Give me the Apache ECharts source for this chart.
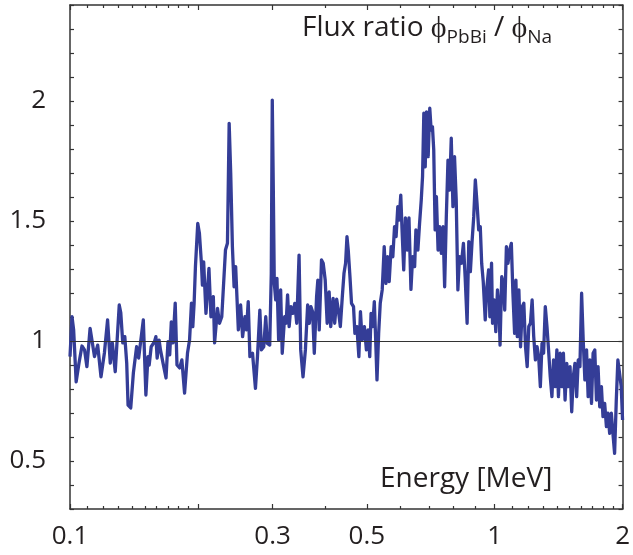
<!DOCTYPE html>
<html>
<head>
<meta charset="utf-8">
<script src="https://cdn.jsdelivr.net/npm/echarts@6/dist/echarts.min.js"></script>
<style>
  html, body { margin: 0; padding: 0; background: #fff; }
  #chart { width: 633px; height: 555px; }
</style>
</head>
<body>
<div id="chart"></div>
<script>
// Neutron energy grid (MeV) and flux ratio PbBi / Na
const energyMeV = [
  0.100, 0.1011, 0.1020, 0.1034, 0.1050, 0.1067, 0.1082, 0.1096, 0.1115, 0.1125,
  0.1142, 0.1162, 0.1183, 0.1205, 0.1226, 0.1244, 0.1258, 0.1278, 0.1289, 0.1306,
  0.1317, 0.1331, 0.1346, 0.1360, 0.1370, 0.1390, 0.1410, 0.1435, 0.1451, 0.1466,
  0.1488, 0.1498, 0.1509, 0.1526, 0.1536, 0.1553, 0.1581, 0.1593, 0.1604, 0.1621,
  0.1633, 0.1656, 0.1683, 0.1701, 0.1717, 0.1732, 0.1748, 0.1769, 0.1786, 0.1812,
  0.1834, 0.1861, 0.1891, 0.1912, 0.1932, 0.1946, 0.1960, 0.1974, 0.1999, 0.2017,
  0.2039, 0.2050, 0.2064, 0.2090, 0.2124, 0.2147, 0.2175, 0.2190, 0.2225, 0.2249,
  0.2277, 0.2298, 0.2323, 0.2348, 0.2370, 0.2390, 0.2412, 0.2434, 0.2455, 0.2468,
  0.2491, 0.2522, 0.2549, 0.2582, 0.2604, 0.2628, 0.2652, 0.2690, 0.2733, 0.2763,
  0.2799, 0.2823, 0.2859, 0.2890, 0.2915, 0.2953, 0.2978, 0.2994, 0.3011, 0.3027,
  0.3050, 0.3071, 0.3099, 0.3133, 0.3160, 0.3201, 0.3228, 0.3253, 0.3281, 0.3311,
  0.3347, 0.3383, 0.3419, 0.3462, 0.3493, 0.3537, 0.3583, 0.3627, 0.3660, 0.3692,
  0.3726, 0.3760, 0.3807, 0.3833, 0.3862, 0.3910, 0.3946, 0.3989, 0.4032, 0.4075,
  0.4111, 0.4164, 0.4200, 0.4245, 0.4284, 0.4330, 0.4377, 0.4417, 0.4455, 0.4489,
  0.4520, 0.4562, 0.4601, 0.4651, 0.4686, 0.4737, 0.4788, 0.4829, 0.4873, 0.4934,
  0.4987, 0.5033, 0.5079, 0.5115, 0.5161, 0.5206, 0.5245, 0.5282, 0.5330, 0.5376,
  0.5434, 0.5493, 0.5544, 0.5594, 0.5643, 0.5704, 0.5756, 0.5809, 0.5859, 0.5913,
  0.5954, 0.6009, 0.6051, 0.6106, 0.6162, 0.6229, 0.6282, 0.6350, 0.6408, 0.6478,
  0.6523, 0.6593, 0.6654, 0.6715, 0.6762, 0.6809, 0.6861, 0.6909, 0.6972, 0.7032,
  0.7085, 0.7135, 0.7185, 0.7239, 0.7290, 0.7356, 0.7420, 0.7488, 0.7557, 0.7622,
  0.7692, 0.7762, 0.7829, 0.7901, 0.7973, 0.8042, 0.8116, 0.8190, 0.8261, 0.8350,
  0.8440, 0.8518, 0.8610, 0.8689, 0.8764, 0.8844, 0.8925, 0.9002, 0.9085, 0.9168,
  0.9247, 0.9317, 0.9397, 0.9499, 0.9586, 0.9674, 0.9741, 0.9830, 0.9883, 0.9968,
  1.0059, 1.0151, 1.0239, 1.0294, 1.0388, 1.0484, 1.0557, 1.0654, 1.0745, 1.0844,
  1.0943, 1.1037, 1.1139, 1.1217, 1.1302, 1.1399, 1.1504, 1.1610, 1.1710, 1.1817,
  1.1925, 1.2028, 1.2138, 1.2249, 1.2355, 1.2468, 1.2582, 1.2690, 1.2807, 1.2924,
  1.3035, 1.3155, 1.3275, 1.3390, 1.3513, 1.3636, 1.3754, 1.3880, 1.4007, 1.4128,
  1.4257, 1.4388, 1.4512, 1.4645, 1.4779, 1.4907, 1.5043, 1.5181, 1.5312, 1.5452,
  1.5594, 1.5728, 1.5872, 1.6018, 1.6156, 1.6304, 1.6453, 1.6595, 1.6747, 1.6901,
  1.7047, 1.7203, 1.7360, 1.7510, 1.7671, 1.7833, 1.7986, 1.8151, 1.8323, 1.8479,
  1.8648, 1.8819, 1.8981, 1.9155, 1.9331, 1.9497, 1.9676, 1.9856, 2.000
];
const fluxRatio = [
  0.935, 1.101, 1.046, 0.830, 0.908, 0.979, 0.963, 0.893, 1.053, 1.046,
  0.935, 0.983, 0.851, 0.950, 1.088, 0.908, 0.992, 0.872, 0.872, 1.150,
  1.117, 0.992, 1.018, 0.908, 0.733, 0.721, 0.867, 0.976, 0.929, 0.929,
  1.088, 1.095, 0.775, 0.935, 0.900, 0.976, 0.997, 1.018, 0.929, 1.004,
  0.963, 0.908, 0.846, 0.997, 0.942, 1.080, 0.992, 1.158, 0.900, 0.888,
  0.921, 0.783, 0.950, 1.004, 1.158, 1.060, 1.158, 1.310, 1.490, 1.449,
  1.324, 1.233, 1.330, 1.115, 1.303, 1.101, 1.185, 0.992, 1.136, 1.074,
  1.101, 1.101, 1.379, 1.407, 1.907, 1.699, 1.393, 1.226, 1.310, 1.213,
  1.046, 1.150, 1.018, 1.101, 1.046, 1.164, 0.935, 0.949, 0.803, 0.935,
  1.129, 0.963, 0.976, 1.101, 0.990, 0.983, 1.282, 2.004, 1.629, 1.240,
  1.171, 1.261, 1.004, 1.213, 0.949, 1.101, 1.074, 1.192, 1.060, 1.143,
  1.115, 1.157, 1.074, 1.358, 0.963, 0.851, 0.963, 1.150, 1.074, 1.143,
  1.122, 0.949, 1.185, 1.254, 1.046, 1.338, 1.324, 1.254, 1.074, 1.205,
  1.060, 1.178, 1.074, 1.174, 1.129, 1.060, 1.185, 1.282, 1.324, 1.435,
  1.379, 1.268, 1.157, 1.143, 1.032, 1.060, 0.935, 1.122, 1.004, 1.060,
  0.963, 1.046, 0.935, 1.115, 1.060, 1.164, 1.004, 0.838, 1.032, 1.157,
  1.213, 1.393, 1.240, 1.351, 1.247, 1.393, 1.351, 1.476, 1.435, 1.560,
  1.504, 1.608, 1.463, 1.296, 1.513, 1.379, 1.513, 1.215, 1.351, 1.310,
  1.463, 1.379, 1.490, 1.588, 1.685, 1.949, 1.726, 1.955, 1.768, 1.970,
  1.879, 1.893, 1.796, 1.463, 1.601, 1.379, 1.476, 1.365, 1.476, 1.226,
  1.518, 1.754, 1.629, 1.845, 1.560, 1.768, 1.588, 1.213, 1.351, 1.324,
  1.407, 1.268, 1.074, 1.414, 1.289, 1.414, 1.518, 1.671, 1.574, 1.463,
  1.476, 1.324, 1.247, 1.088, 1.226, 1.296, 1.101, 1.324, 1.074, 1.171,
  1.039, 1.213, 1.129, 0.983, 1.268, 1.240, 1.129, 1.393, 1.324, 1.379,
  1.407, 1.199, 1.032, 1.254, 1.018, 1.213, 0.976, 1.143, 1.157, 0.976,
  0.893, 1.060, 1.074, 1.171, 1.018, 0.921, 0.976, 0.935, 0.810, 0.990,
  0.949, 1.143, 1.060, 0.963, 0.851, 0.768, 0.921, 0.810, 0.963, 0.768,
  0.949, 0.810, 0.949, 0.754, 0.907, 0.810, 0.893, 0.705, 0.851, 0.907,
  0.768, 0.921, 0.893, 1.199, 1.004, 0.838, 0.963, 0.768, 0.921, 0.740,
  0.949, 0.963, 0.754, 0.893, 0.726, 0.810, 0.685, 0.740, 0.643, 0.699,
  0.615, 0.699, 0.615, 0.532, 0.754, 0.921, 0.865, 0.810, 0.671
];

// Axis ticks and labels
const xLabelValues = [0.1, 0.3, 0.5, 1, 2];
const xMajorTicks = [0.1, 0.2, 0.3, 0.5, 1, 2];
const xMinorTicks = [0.11, 0.12, 0.13, 0.14, 0.15, 0.16, 0.17, 0.18, 0.19,
  0.4, 0.6, 0.7, 0.8, 0.9, 1.1, 1.2, 1.3, 1.4, 1.5, 1.6, 1.7, 1.8, 1.9];
const yLabelValues = [0.5, 1, 1.5, 2];
const yTickValues = [0.3, 0.4, 0.5, 0.6, 0.7, 0.8, 0.9, 1.0, 1.1, 1.2, 1.3, 1.4,
  1.5, 1.6, 1.7, 1.8, 1.9, 2.0, 2.1, 2.2, 2.3, 2.4];
const referenceRatio = 1;

const FONT = 'Open Sans';
const AXIS_COLOR = '#333';
const TEXT_COLOR = '#231f20';
const LINE_COLOR = '#343d97';

const chart = echarts.init(document.getElementById('chart'), null, { renderer: 'canvas' });

function xAxisDef(position, ticks, tickLen, withLabels, withLine) {
  return {
    type: 'log',
    logBase: 10,
    position: position,
    min: 0.1,
    max: 2,
    axisLine: { show: withLine, onZero: false, lineStyle: { color: AXIS_COLOR, width: 1.5 } },
    axisTick: { show: true, inside: true, length: tickLen, customValues: ticks,
      lineStyle: { color: AXIS_COLOR, width: 1.2 } },
    axisLabel: withLabels ? {
      show: true, customValues: xLabelValues, margin: 15,
      fontFamily: FONT, fontSize: 26, color: TEXT_COLOR,
      formatter: v => String(v)
    } : { show: false },
    splitLine: { show: false },
    minorTick: { show: false }
  };
}

function yAxisDef(position, withLabels) {
  return {
    type: 'value',
    position: position,
    min: 0.3,
    max: 2.4,
    axisLine: { show: true, onZero: false, lineStyle: { color: AXIS_COLOR, width: 1.5 } },
    axisTick: { show: true, inside: true, length: 4, customValues: yTickValues,
      lineStyle: { color: AXIS_COLOR, width: 1.2 } },
    axisLabel: withLabels ? {
      show: true, customValues: yLabelValues, margin: 24,
      fontFamily: FONT, fontSize: 26, color: TEXT_COLOR,
      formatter: v => String(v)
    } : { show: false },
    splitLine: { show: false }
  };
}

const seriesData = energyMeV.map((e, i) => [e, fluxRatio[i]]);

chart.setOption({
  animation: false,
  backgroundColor: '#fff',
  grid: { left: 70, right: 5, top: 5, bottom: 46, containLabel: false },
  xAxis: [
    xAxisDef('bottom', xMajorTicks, 5, true, true),
    xAxisDef('bottom', xMinorTicks, 3, false, false),
    xAxisDef('top', xMajorTicks, 5, false, true),
    xAxisDef('top', xMinorTicks, 3, false, false)
  ],
  yAxis: [
    yAxisDef('left', true),
    yAxisDef('right', false)
  ],
  graphic: [
    {
      type: 'text',
      left: 302,
      top: 13,
      style: {
        text: '{m|Flux ratio }{p|ϕ}{s|PbBi}{m| / }{p|ϕ}{s|Na}',
        fill: TEXT_COLOR,
        rich: {
          m: { fontFamily: FONT, fontSize: 28, fill: TEXT_COLOR },
          p: { fontFamily: FONT, fontSize: 30, fill: TEXT_COLOR },
          s: { fontFamily: FONT, fontSize: 19, fill: TEXT_COLOR, padding: [20, 0, 0, 0] }
        }
      }
    },
    {
      type: 'text',
      left: 380,
      top: 465,
      style: {
        text: 'Energy [MeV]',
        fontFamily: FONT,
        fontSize: 28,
        fill: TEXT_COLOR
      }
    }
  ],
  series: [
    {
      type: 'line',
      xAxisIndex: 0,
      yAxisIndex: 0,
      data: seriesData,
      showSymbol: false,
      symbol: 'none',
      lineStyle: { color: LINE_COLOR, width: 3.3, join: 'round' },
      markLine: {
        silent: true,
        symbol: 'none',
        label: { show: false },
        lineStyle: { color: AXIS_COLOR, width: 1.2, type: 'solid' },
        data: [{ yAxis: referenceRatio }]
      }
    }
  ]
});
</script>
</body>
</html>
